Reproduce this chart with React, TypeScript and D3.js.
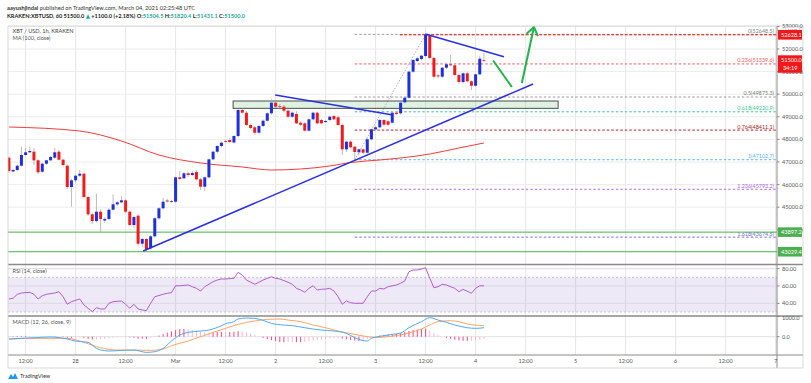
import React from 'react';
import * as d3 from 'd3';

// ---------- DATA ----------
const START = Date.UTC(2021, 1, 27, 8); // first hourly candle, Feb 27 08:00 UTC
const HOUR = 3600e3;

const opens = [47190,46580,46646,46836,47310,47429,47456,47075,46571,46925,47075,47190,47456,47102,46836,45894,
46190,46394,46482,45451,44685,44389,44800,44411,44478,44890,45128,45216,45305,44800,44212,44624,43385,43593,43181,43712,44509,44951,45296,45252,45243,46323,46279,46500,46425,46557,46234,45907,46323,47119,47456,47708,47929,47973,47863,48150,49301,49181,48637,48535,48296,48593,48827,49155,49624,49478,49447,49270,49004,49124,48739,48712,48385,48889,49181,48858,48770,48858,49035,48978,48637,47562,47898,47677,47429,47562,47411,48004,48447,48535,48858,48801,48739,49181,49155,49641,49845,50996,51469,51560,51690,52589,51602,50830,50774,51173,51323,51279,50850,50540,50925,50571,50376,50880,51504.5];
const highs = [47250,46700,46880,47677,47619,47677,47619,47120,46960,47100,47260,47619,47531,47150,46900,46250,
46450,46646,46530,45500,44750,45597,44900,44560,44950,45570,45250,45500,45350,44850,44620,44680,43650,43640,43760,44560,45000,45407,45380,45330,46350,46600,46560,46560,46600,46650,46300,46350,47150,47500,47750,47900,47990,48050,48180,49330,49380,49250,48700,48600,48650,48880,49200,49780,49700,49560,49520,49330,49230,49250,48800,48760,48920,49230,49230,48900,48850,49060,49100,49050,48700,47950,47960,47720,47600,47600,48060,48480,48580,48900,48900,48850,49230,49220,49650,49900,51050,51550,51650,51750,52648.5,52640,51650,50900,51200,51400,51734,51320,50900,50960,50980,50620,50900,51704,51820.4];
const lows = [46520,46540,46600,46800,47280,47400,46867,46469,46520,46880,47030,47150,47060,46800,45805,45022,
46100,46330,45400,44610,44256,44330,43902,44300,44420,44850,45050,45180,44750,44150,44100,43300,43239,43029.4,43120,43650,44450,44900,45200,45180,45200,46200,46230,46350,46380,46190,45761,45717,46280,47080,47400,47650,47860,47850,47820,48100,49150,48600,48450,48200,48250,48550,48780,49100,49400,49380,49200,48950,48950,48680,48600,48350,48340,48850,48650,48680,48730,48820,48850,48600,47310,47450,47600,47102.7,47300,47350,47380,47960,48400,48500,48600,48600,48700,49080,49100,49600,49800,50950,51420,51500,51640,51550,50700,50700,50720,51120,51250,50800,50450,50480,50520,50186,50330,50850,51431.1];
const closes = [46600,46646,46836,47310,47429,47487,47075,46544,46925,47075,47221,47429,47102,46867,45894,46190,
46394,46482,45451,44685,44389,44800,44478,44478,44890,45128,45216,45305,44800,44212,44566,43385,43593,43150,43712,44509,44951,45243,45252,45274,46323,46248,46500,46425,46513,46234,45907,46323,47119,47456,47708,47854,47898,47885,48150,49301,49181,48637,48504,48296,48593,48827,49155,49624,49447,49447,49270,49004,49181,48712,48650,48385,48889,49181,48712,48712,48814,49004,48889,48637,47562,47898,47650,47442,47562,47411,48004,48447,48535,48858,48650,48650,49181,49124,49624,49845,50996,51513,51588,51704,52620,51602,50774,50790,51173,51323,51279,50850,50540,50925,50571,50376,50880,51571,51500];

// MA(100) at some candle indices (index 0 = Feb 28 00:00)
const maIdx = [-16, 1, 11, 20, 30, 40, 47, 54, 61, 66, 73, 78, 85, 92, 98];
const maVal = [48548, 48371, 47929, 47310, 46956, 46779, 46646, 46690, 46823, 46978, 47088, 47177, 47354, 47619, 47841];

// RSI(14)
const rsiIdx = [-16,-15,-14,-13,-11,-10,-9,-8,-7,-5,-4,-3,-2,-1,1,2,3,4,5,6,7,8,9,11,12,13,14,15,16,17,18,19,21,22,23,24,25,27,28,29,30,31,33,34,35,36,38,39,40,41,43,44,45,47,48,49,51,52,53,54,55,56,57,58,59,60,61,62,63,64,65,66,67,69,70,71,72,73,74,75,77,78,79,80,81,82,83,84,85,86,87,88,89,91,92,93,95,96,97,98];
const rsiVal = [45,45.8,50.4,51.9,52.7,50.4,45,48.8,50.4,51.9,53.4,47.6,38.9,41.9,45,38.1,34.2,30.3,34.9,33.4,33.4,40,41.9,42.7,38.9,34.2,38.9,33.4,32.3,31.5,40,47.6,50.4,51.6,52.3,60.3,60.3,61.2,59.2,57.3,54.2,59.2,65,66.9,68.1,68.1,68.9,75.8,72.7,66.9,62,64.3,66.9,70.7,68.9,68.1,64.3,62,57.3,55.4,52.7,57.3,60.3,55.4,56.2,56.5,57.3,54.2,47.6,38.9,42.7,40.7,40,40,47.6,54.2,54.2,57.3,56.5,59.2,61.2,63.1,65.8,76.5,78.5,78.5,79.6,81.1,68.9,58,59.2,62,61.2,57.3,53.4,56.2,51.6,57.3,60.3,60.3];

// MACD(12,26,9)
const macdIdx = [-16,-13,-10,-6,-2,0,3,5,7,8,11,14,17,19,21,23,25,27,30,32,35,36,38,39,41,43,45,47,50,52,55,57,59,62,65,67,70,71,74,76,78,80,83,85,87,89,91,94,96,98];
const macdVal = [-116,-82,-50,-16,-116,-215,-281,-578,-693,-710,-677,-660,-776,-743,-578,-215,82,215,281,330,545,644,743,875,924,908,808,660,578,545,446,380,330,281,165,-50,-215,-82,50,116,180,446,743,941,825,710,578,446,413,446];
const sigIdx = [-16,-10,-6,-2,2,6,10,14,18,21,23,27,30,33,36,39,43,46,49,51,54,57,60,63,67,70,72,74,76,78,80,83,85,87,90,92,94,98];
const sigVal = [-116,-82,-82,-82,-281,-545,-660,-660,-677,-611,-446,-215,0,215,413,611,776,858,875,825,743,578,446,281,116,0,-40,-20,30,90,190,380,578,743,792,743,627,545];
const histVal = [10,20,30,40,40,35,20,0,-10,0,10,20,15,-20,-60,-60,
-40,-30,-70,-110,-140,-130,-120,-110,-80,-50,-30,-10,-10,-40,-60,-100,-100,-110,-60,10,60,130,200,260,330,370,380,370,330,300,260,200,180,210,230,240,230,230,240,270,250,210,150,80,0,-60,-120,-170,-220,-260,-280,-270,-265,-270,-275,-250,-210,-180,-160,-140,-110,-80,-70,-65,-90,-130,-160,-190,-215,-190,-120,-30,20,60,90,110,130,150,180,230,280,330,360,390,400,300,170,80,0,-60,-110,-150,-180,-200,-215,-200,-180,-140,-100];

const priceTicks = [44000,45000,46000,47000,48000,49000,50000,51000,52000,53000];
const fibRatios = ['0','0.236','0.5','0.618','0.764','1','1.236','1.618'];
const fibPrices = [52648.5,51339.6,49875.3,49220.9,48411.1,47102.7,45793.2,43674.5];
const fibColors = ['#9a9a9a','#f45b5b','#9a9a9a','#45c29a','#b0202a','#64b5f6','#b36bd9','#7a77d9'];
const fibTextColors = ['#808080','#f26262','#7c7c7c','#3fbf95','#9a1b22','#5aaef2','#b066d6','#6f6ccf'];
const supportLevels = [43897.2, 43029.4];
const resistanceLevel = 52628.1;
const rsiTicks = [80, 60, 40];
const macdTicks = [1000, 0];

// drawings in (candle index, price)
const trendUp = [[16.2, 43061],[109.8, 50451]];
const trendDownLeft = [[47.9, 49964],[76.2, 49080]];
const trendDownRight = [[83.9, 52664],[102.8, 51659]];
const greenDown = [[100.2, 51491],[104.7, 50319]];
const greenUp = [[107.1, 50496],[110.0, 52974]];
const zoneIdx = [37.8, 115.8];
const zonePrice = [49699, 49376];
const fibStartIdx = 67;
const fibEndIdx = 84;

const FONT = 'Lato, "Open Sans", "DejaVu Sans", sans-serif';

export default function App() {
  const x = d3.scaleUtc()
    .domain([new Date(Date.UTC(2021, 1, 28)), new Date(Date.UTC(2021, 2, 7))])
    .range([75.6, 775.6]);
  const xi = (i: number) => x(new Date(Date.UTC(2021, 1, 28) + i * HOUR)) as number;
  const y = d3.scaleLinear().domain([43000, 52000]).range([252.4, 49]);
  const yr = d3.scaleLinear().domain([40, 60]).range([303.3, 286]);
  const ym = d3.scaleLinear().domain([0, 1000]).range([336.7, 316.5]);

  const L = 8, R = 777, FR = 803;
  const mainTop = 26, mainBot = 264, rsiTop = 265, rsiBot = 316, macdTop = 316.5, macdBot = 355;

  const candles = opens.map((o, k) => ({
    i: (START - Date.UTC(2021, 1, 28)) / HOUR + k,
    o, h: highs[k], l: lows[k], c: closes[k],
  }));

  const ticks = d3.utcHour.every(12)!.range(new Date(Date.UTC(2021, 1, 27, 12)), new Date(Date.UTC(2021, 2, 7, 1)));
  const tickLabel = (d: Date) => {
    if (d.getUTCHours() === 12) return '12:00';
    if (d.getUTCDate() === 1) return d3.utcFormat('%b')(d);
    return String(d.getUTCDate());
  };

  const line = d3.line<number[]>().x(d => xi(d[0]));
  const maPath = d3.line<number>().x((_, k) => xi(maIdx[k])).y(d => y(d)).curve(d3.curveMonotoneX)(maVal);
  const rsiPath = d3.line<number>().x((_, k) => xi(rsiIdx[k])).y(d => yr(d))(rsiVal);
  const macdPath = d3.line<number>().x((_, k) => xi(macdIdx[k])).y(d => ym(d)).curve(d3.curveMonotoneX)(macdVal);
  const sigPath = d3.line<number>().x((_, k) => xi(sigIdx[k])).y(d => ym(d)).curve(d3.curveMonotoneX)(sigVal);
  const seg = (pts: number[][]) => line.y(d => y(d[1]))(pts) as string;

  const arrowHead = (pts: number[][]) => {
    const x1 = xi(pts[0][0]), y1 = y(pts[0][1]), x2 = xi(pts[1][0]), y2 = y(pts[1][1]);
    const a = Math.atan2(y1 - y2, x1 - x2);
    const len = 10, sp = 0.62;
    return `M${x2 + len * Math.cos(a + sp)},${y2 + len * Math.sin(a + sp)}L${x2},${y2}L${x2 + len * Math.cos(a - sp)},${y2 + len * Math.sin(a - sp)}`;
  };

  const fmt = d3.format('.1f');
  const fs = 5.6;
  const axisCol = '#555';
  const blue = '#1f2fdc';
  const red = '#ee1c1c';

  const axisLabel = (yy: number, text: string, bg: string, color = '#fff') => (
    <g>
      <rect x={R + 1} y={yy - 4.8} width={FR - R - 2} height={9.6} fill={bg} />
      <text x={R + 4} y={yy} dy="0.35em" fontSize={fs} fill={color} fontFamily={FONT}>{text}</text>
    </g>
  );

  return (
    <div style={{ position: 'absolute', left: 0, top: 0, width: 811, height: 383, background: '#fff' }}>
      <svg width={811} height={383} style={{ display: 'block' }}>
        <defs>
          <clipPath id="cm"><rect x={L} y={mainTop} width={R - L} height={mainBot - mainTop} /></clipPath>
          <clipPath id="cr"><rect x={L} y={rsiTop} width={R - L} height={rsiBot - rsiTop} /></clipPath>
          <clipPath id="cd"><rect x={L} y={macdTop} width={R - L} height={macdBot - macdTop} /></clipPath>
        </defs>
        <rect width={811} height={383} fill="#fff" />

        {/* header */}
        <text x={7} y={10.2} fontSize={5.8} fontFamily={FONT} fill="#333" textLength={188} lengthAdjust="spacingAndGlyphs">
          <tspan fontWeight="bold">aayushjindal</tspan> published on TradingView.com, March 04, 2021 02:25:48 UTC
        </text>
        <text x={7} y={17.8} fontSize={5.8} fontFamily={FONT} fill="#222" fontWeight="bold" textLength={238} lengthAdjust="spacingAndGlyphs">
          KRAKEN:XBTUSD, 60 51500.0 <tspan fill="#26a69a">▲</tspan> +1100.0 (+2.18%) O:<tspan fill="#26a69a">51504.5</tspan> H:<tspan fill="#26a69a">51820.4</tspan> L:<tspan fill="#26a69a">51431.1</tspan> C:<tspan fill="#26a69a">51500.0</tspan>
        </text>

        {/* grid */}
        {ticks.map((t, k) => (
          <line key={'vg' + k} x1={x(t)} x2={x(t)} y1={mainTop} y2={macdBot} stroke="#e6e6e6" strokeWidth={1} />
        ))}
        {priceTicks.map(p => (
          <line key={'hg' + p} x1={L} x2={R} y1={y(p)} y2={y(p)} stroke="#ececec" strokeWidth={1} />
        ))}

        {/* main pane */}
        <g clipPath="url(#cm)">
          {/* fib levels */}
          {fibPrices.map((p, k) => (
            <line key={'fib' + k} x1={xi(fibStartIdx)} x2={R} y1={y(p)} y2={y(p)} stroke={fibColors[k]} strokeWidth={1} strokeDasharray="2.5,2" />
          ))}
          <line x1={xi(fibStartIdx)} y1={y(fibPrices[5])} x2={xi(fibEndIdx)} y2={y(fibPrices[0])} stroke="#9a9a9a" strokeWidth={0.8} strokeDasharray="1.5,1.5" />
          {fibPrices.map((p, k) => (
            <text key={'fibt' + k} x={774} y={y(p) - 1.6} fontSize={5.4} textAnchor="end" fill={fibTextColors[k]} fontFamily={FONT}>
              {fibRatios[k]}({fmt(p)})
            </text>
          ))}
          {/* resistance */}
          <line x1={xi(77.8)} x2={R} y1={y(resistanceLevel)} y2={y(resistanceLevel)} stroke="#f01818" strokeWidth={1} strokeDasharray="3,1.5" />
          {/* supports */}
          {supportLevels.map(p => (
            <line key={'sup' + p} x1={L} x2={R} y1={y(p)} y2={y(p)} stroke="#4caf50" strokeWidth={1} />
          ))}
          {/* zone */}
          <rect x={xi(zoneIdx[0])} y={y(zonePrice[0])} width={xi(zoneIdx[1]) - xi(zoneIdx[0])} height={y(zonePrice[1]) - y(zonePrice[0])}
            fill="rgba(129,199,132,0.25)" stroke="#3a3a3a" strokeWidth={0.9} />
          {/* MA */}
          <path d={maPath as string} fill="none" stroke="#f23c3c" strokeWidth={1} />
          {/* candles */}
          {candles.map((d, k) => {
            const cx = xi(d.i);
            const up = d.c >= d.o;
            const top = y(Math.max(d.o, d.c)), bot = y(Math.min(d.o, d.c));
            return (
              <g key={'c' + k}>
                <line x1={cx} x2={cx} y1={y(d.h)} y2={y(d.l)} stroke="#a8a8a8" strokeWidth={0.8} />
                <rect x={cx - 1.5} y={top} width={3} height={Math.max(0.8, bot - top)} fill={up ? blue : red} />
              </g>
            );
          })}
          {/* trend lines */}
          <path d={seg(trendUp)} stroke="#2a2fe0" strokeWidth={1.5} fill="none" />
          <path d={seg(trendDownLeft)} stroke="#2a2fe0" strokeWidth={1.5} fill="none" />
          <path d={seg(trendDownRight)} stroke="#2a2fe0" strokeWidth={1.5} fill="none" />
          <path d={seg(greenDown)} stroke="#22b14c" strokeWidth={2} fill="none" />
          <path d={seg(greenUp)} stroke="#22b14c" strokeWidth={2} fill="none" />
          <path d={arrowHead(greenUp)} stroke="#22b14c" strokeWidth={2} fill="none" />
        </g>
        {/* legend */}
        <text x={12.5} y={32.5} fontSize={5.6} fill="#444" fontFamily={FONT}>XBT / USD, 1h, KRAKEN</text>
        <text x={12.5} y={39.5} fontSize={5.6} fill="#555" fontFamily={FONT}>MA (100, close)</text>

        {/* RSI pane */}
        <rect x={L} y={yr(70)} width={R - L} height={yr(30) - yr(70)} fill="rgba(149,117,205,0.16)" />
        <line x1={L} x2={R} y1={yr(70)} y2={yr(70)} stroke="#c4c4c4" strokeDasharray="2,2" />
        <line x1={L} x2={R} y1={yr(30)} y2={yr(30)} stroke="#c4c4c4" strokeDasharray="2,2" />
        {rsiTicks.map(v => (
          <line key={'rg' + v} x1={L} x2={R} y1={yr(v)} y2={yr(v)} stroke="#dcd6e6" strokeWidth={1} />
        ))}
        <g clipPath="url(#cr)">
          <path d={rsiPath as string} fill="none" stroke="#b35ccf" strokeWidth={1} />
        </g>
        <text x={12.5} y={273} fontSize={5.6} fill="#555" fontFamily={FONT}>RSI (14, close)</text>

        {/* MACD pane */}
        <line x1={L} x2={R} y1={ym(0)} y2={ym(0)} stroke="#e2e2e2" strokeWidth={1} />
        <g clipPath="url(#cd)">
          {histVal.map((v, k) => {
            const prev = k > 0 ? histVal[k - 1] : v;
            const grow = Math.abs(v) >= Math.abs(prev);
            const cx = xi(candles[k].i);
            return <line key={'h' + k} x1={cx} x2={cx} y1={ym(0)} y2={ym(v)} stroke={grow ? '#f0487a' : '#f8b6cb'} strokeWidth={1} />;
          })}
          <path d={sigPath as string} fill="none" stroke="#ffa366" strokeWidth={1} />
          <path d={macdPath as string} fill="none" stroke="#4ea9f2" strokeWidth={1} />
        </g>
        <text x={12.5} y={324} fontSize={5.6} fill="#555" fontFamily={FONT}>MACD (12, 26, close, 9)</text>

        {/* pane separators and frame */}
        <line x1={L} x2={FR} y1={mainBot + 0.5} y2={mainBot + 0.5} stroke="#8a8a8a" strokeWidth={1.3} />
        <line x1={L} x2={FR} y1={rsiBot} y2={rsiBot} stroke="#8a8a8a" strokeWidth={1.3} />
        <line x1={L} x2={FR} y1={macdBot} y2={macdBot} stroke="#8a8a8a" strokeWidth={1} />
        <line x1={R} x2={R} y1={mainTop} y2={368} stroke="#8a8a8a" strokeWidth={1} />
        <rect x={L} y={mainTop} width={FR - L} height={368 - mainTop} fill="none" stroke="#d0d0d0" strokeWidth={0.8} />

        {/* price axis */}
        {priceTicks.map(p => (
          <g key={'pt' + p}>
            <line x1={R} x2={R + 2.5} y1={y(p)} y2={y(p)} stroke="#888" />
            <text x={R + 5} y={y(p)} dy="0.35em" fontSize={fs} fill={axisCol} fontFamily={FONT}>{fmt(p)}</text>
          </g>
        ))}
        <rect x={785.5} y={27.2} width={14} height={6} fill="#fff" stroke="#bbb" strokeWidth={0.5} rx={1} />
        <text x={792.5} y={30.4} dy="0.3em" fontSize={4.4} textAnchor="middle" fill="#666" fontFamily={FONT}>USD</text>
        {axisLabel(y(resistanceLevel), fmt(resistanceLevel), '#f01818')}
        <g>
          <rect x={R + 1} y={y(closes[closes.length - 1]) - 5} width={FR - R - 2} height={17.5} fill="#f01818" />
          <text x={R + 4} y={y(closes[closes.length - 1])} dy="0.35em" fontSize={fs} fill="#fff" fontFamily={FONT}>{fmt(closes[closes.length - 1])}</text>
          <text x={R + 6} y={y(closes[closes.length - 1]) + 7.5} dy="0.35em" fontSize={fs} fill="#fff" fontFamily={FONT}>34:19</text>
        </g>
        {supportLevels.map(p => <g key={'sl' + p}>{axisLabel(y(p), fmt(p), '#4caf50')}</g>)}

        {/* rsi axis */}
        {rsiTicks.map(v => (
          <g key={'ra' + v}>
            <line x1={R} x2={R + 2.5} y1={yr(v)} y2={yr(v)} stroke="#888" />
            <text x={R + 5} y={yr(v)} dy="0.35em" fontSize={fs} fill={axisCol} fontFamily={FONT}>{v.toFixed(2)}</text>
          </g>
        ))}
        {/* macd axis */}
        {macdTicks.map(v => (
          <g key={'ma' + v}>
            <line x1={R} x2={R + 2.5} y1={ym(v)} y2={ym(v)} stroke="#888" />
            <text x={R + 5} y={ym(v) + (v === 1000 ? 2 : 0)} dy="0.35em" fontSize={fs} fill={axisCol} fontFamily={FONT}>{fmt(v)}</text>
          </g>
        ))}

        {/* time axis */}
        {ticks.map((t, k) => (
          <text key={'tt' + k} x={x(t)} y={361.5} dy="0.35em" fontSize={fs} textAnchor="middle" fill={axisCol} fontFamily={FONT}>{tickLabel(t)}</text>
        ))}

        {/* footer logo */}
        <g transform="translate(8,372)">
          <path d="M0,7 L3,2 L5,5 L7,1 L10,7 Z" fill="#2196f3" />
          <text x={12} y={4.5} dy="0.35em" fontSize={5.6} fill="#333" fontFamily={FONT}>TradingView</text>
        </g>
      </svg>
    </div>
  );
}
